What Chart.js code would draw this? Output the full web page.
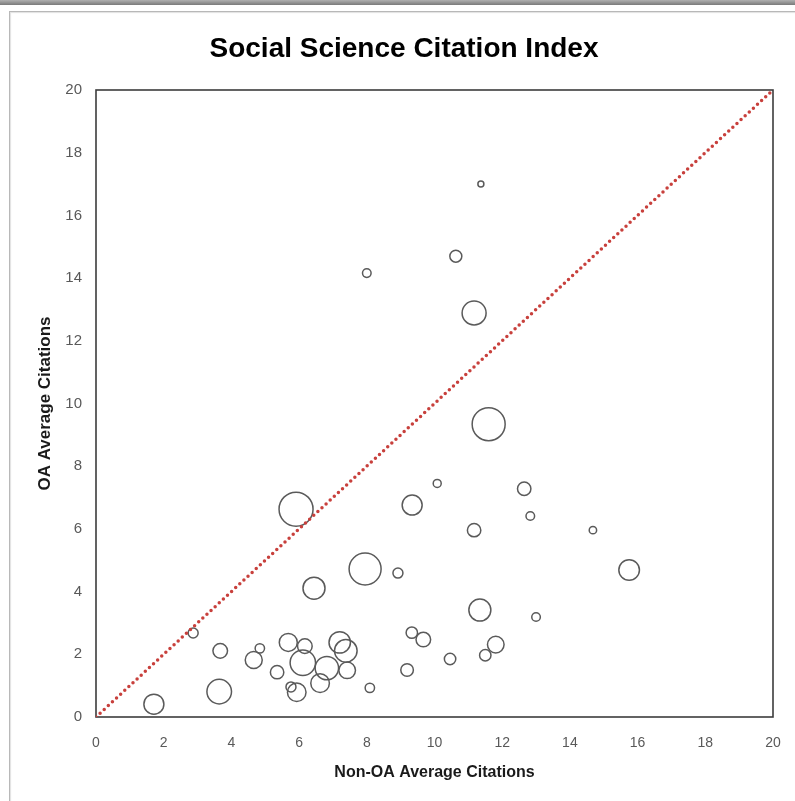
<!DOCTYPE html>
<html>
<head>
<meta charset="utf-8">
<script src="https://cdn.jsdelivr.net/npm/chart.js@4/dist/chart.umd.min.js"></script>
<style>
  html, body { margin: 0; padding: 0; background: #fff; width: 795px; height: 801px; overflow: hidden; }
  #topbar { position: absolute; left: 0; top: 0; width: 795px; height: 5px; background: linear-gradient(#b0b0b0, #7a7a7a); }
  #frame { position: absolute; left: 9px; top: 11px; width: 800px; height: 800px; border-top: 1px solid #b8b8b8; border-left: 1px solid #b8b8b8; box-shadow: inset 1px 1px 1px #e2e2e2; }
  #c { position: absolute; left: 0; top: 0; }
</style>
</head>
<body>
<div id="topbar"></div>
<div id="frame"></div>
<canvas id="c" width="795" height="801"></canvas>
<script>
// Data
const chartTitle = "Social Science Citation Index";
const xAxisTitle = "Non-OA Average Citations";
const yAxisTitle = "OA Average Citations";

// Non-OA average citations (x)
const nonOA = [11.37, 10.63, 8.00, 11.17, 11.60, 10.08, 12.65, 12.83, 9.34, 11.17,
               14.68, 5.91, 7.95, 8.92, 6.44, 15.75, 11.34, 13.00, 2.87, 3.67,
               4.84, 4.66, 5.35, 5.68, 6.17, 6.11, 6.82, 7.20, 7.38, 7.42,
               6.62, 5.76, 5.93, 3.64, 1.71, 8.09, 9.33, 9.67, 11.81, 11.50,
               10.46, 9.19];
// OA average citations (y)
const oa = [17.00, 14.70, 14.16, 12.89, 9.34, 7.45, 7.28, 6.41, 6.76, 5.96,
            5.96, 6.63, 4.72, 4.59, 4.11, 4.69, 3.41, 3.19, 2.68, 2.11,
            2.19, 1.82, 1.43, 2.38, 2.26, 1.73, 1.56, 2.38, 2.11, 1.49,
            1.08, 0.96, 0.79, 0.81, 0.41, 0.93, 2.69, 2.47, 2.31, 1.97,
            1.85, 1.50];
// Bubble magnitude (bubble radius)
const bubbleSize = [3, 6, 4.3, 12, 16.5, 4, 6.7, 4.3, 10, 6.7,
                    3.7, 17, 16, 5, 11, 10.3, 11, 4.3, 5, 7.3,
                    4.7, 8.5, 6.7, 9, 7.3, 12.7, 11.7, 10.7, 11.3, 8.3,
                    9.3, 5, 9.3, 12.3, 10, 4.7, 5.7, 7.3, 8.3, 5.7,
                    5.7, 6.3];
// Parity line endpoints (OA = Non-OA)
const parityX = [0, 20];
const parityY = [0, 20];
const axisMin = 0, axisMax = 20, axisStep = 2;

const bubbles = nonOA.map((x, i) => ({ x: x, y: oa[i], r: bubbleSize[i] }));
const parity = parityX.map((x, i) => ({ x: x, y: parityY[i] }));

const frameBox = {
  id: 'frameBox',
  beforeDatasetsDraw(chart) {
    const { ctx, chartArea: a } = chart;
    ctx.save();
    ctx.strokeStyle = '#3c3c3c';
    ctx.lineWidth = 1.6;
    ctx.strokeRect(a.left, a.top, a.right - a.left, a.bottom - a.top);
    ctx.restore();
  }
};

const fam = "'Liberation Sans', Arial, sans-serif";

new Chart(document.getElementById('c'), {
  type: 'bubble',
  data: {
    datasets: [
      {
        type: 'line',
        data: parity,
        borderColor: '#c8403c',
        borderWidth: 3.5,
        borderDash: [0, 5.6],
        borderCapStyle: 'round',
        pointRadius: 0,
        fill: false,
        order: 0
      },
      {
        data: bubbles,
        backgroundColor: 'rgba(0,0,0,0)',
        borderColor: '#5a5a5a',
        borderWidth: 1.5,
        hoverBorderWidth: 1.5,
        order: 1
      }
    ]
  },
  plugins: [frameBox],
  options: {
    responsive: false,
    animation: false,
    events: [],
    layout: { autoPadding: false, padding: { top: 32, right: 22, bottom: 0, left: 35 } },
    plugins: {
      legend: { display: false },
      tooltip: { enabled: false },
      title: {
        display: true,
        text: chartTitle,
        color: '#000',
        font: { family: fam, size: 28, weight: 'bold' },
        padding: { top: 0, bottom: 24.4 }
      }
    },
    scales: {
      x: {
        type: 'linear',
        min: axisMin, max: axisMax,
        grid: { display: true, drawOnChartArea: false, drawTicks: true, tickLength: 18, tickColor: 'rgba(0,0,0,0)', color: 'rgba(0,0,0,0)' },
        border: { display: false },
        ticks: { stepSize: axisStep, color: '#595959', font: { family: fam, size: 14 }, padding: 0 },
        title: { display: true, text: xAxisTitle, color: '#1a1a1a', font: { family: fam, size: 16, weight: 'bold' }, padding: { top: 0, bottom: 18.4 } },
        afterFit(s) { s.height = 84; }
      },
      y: {
        type: 'linear',
        min: axisMin, max: axisMax,
        grid: { display: false, drawTicks: false },
        border: { display: false },
        ticks: { stepSize: axisStep, color: '#595959', font: { family: fam, size: 15 }, padding: 14 },
        title: { display: true, text: yAxisTitle, color: '#1a1a1a', font: { family: fam, size: 17, weight: 'bold' }, padding: { top: 0, bottom: 0 } },
        afterFit(s) { s.width = 61; }
      }
    }
  }
});
</script>
</body>
</html>
